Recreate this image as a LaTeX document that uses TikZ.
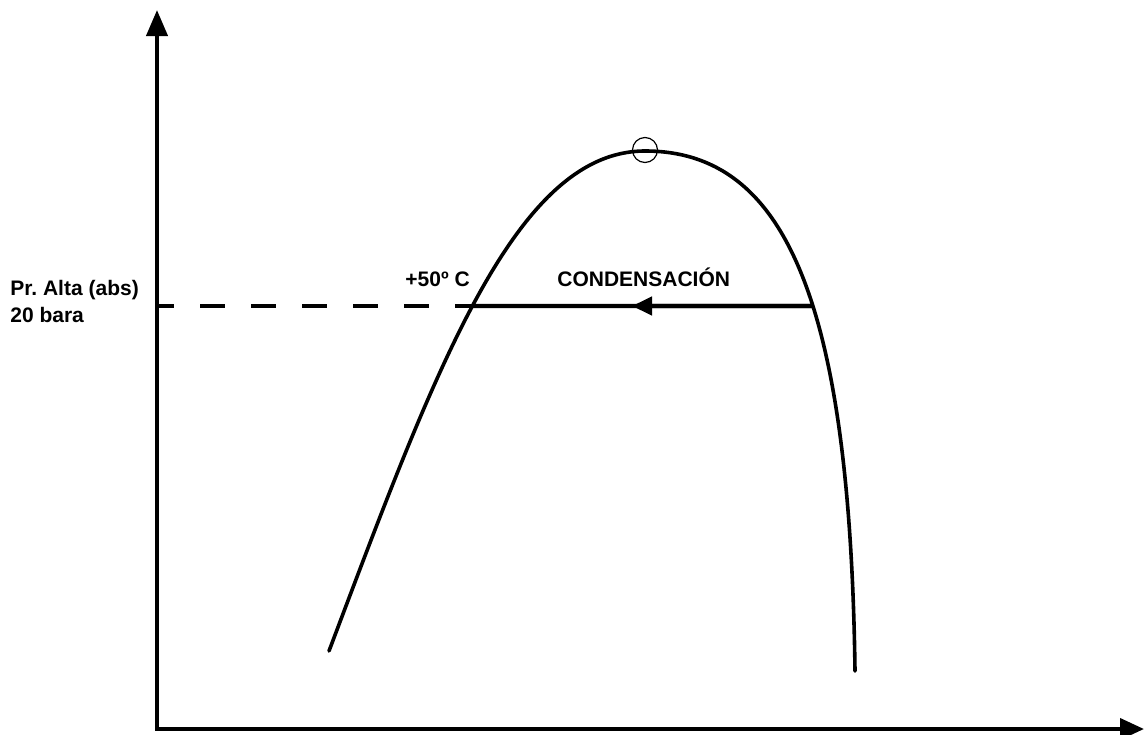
\documentclass[tikz,border=0pt]{standalone}
\usepackage{fontspec}
\setmainfont{Liberation Sans}
\usetikzlibrary{arrows.meta, intersections}

\begin{document}
\begin{tikzpicture}[x=0.5pt, y=-0.5pt,
      every node/.style={font=\fontsize{10.5}{13}\selectfont\bfseries, inner sep=0pt},
      axisline/.style={line width=2pt, {Triangle[length=13pt, width=10.5pt]}-{Triangle[length=12pt, width=10.5pt]}},
      curveline/.style={line width=1.8pt, line cap=round},
      presline/.style={line width=2.2pt}]
    \useasboundingbox[fill=white] (0,0) rectangle (1145,734);
    % ---- axes
    \coordinate (origin) at (157,729);
    \coordinate (ytip) at (157,10);
    \coordinate (xtip) at (1144,729);
    \draw[axisline] (ytip) -- (origin) -- (xtip);
    % ---- saturation curve
    \coordinate (liqend) at (329,651);
    \coordinate (peak) at (645,151);
    \coordinate (vapend) at (855,671);
    \draw[curveline, name path=curve] (liqend) .. controls (435,370) and (515,151) .. (peak)
      .. controls (785,151) and (850,300) .. (vapend);
    \node[circle, draw, line width=0.6pt, minimum size=12.5pt] (critico) at (645,150) {};
    % ---- condensation line
    \path[name path=nivel] (origin |- 0,306) -- (1000,306);
    \path[name intersections={of=curve and nivel, by={leftcross,rightcross}, sort by=nivel}];
    \coordinate (flecha) at (632,306);
    \draw[presline, dash pattern=on 12.5pt off 13pt, dash phase=4pt] (origin |- leftcross) -- (leftcross);
    \draw[presline] (leftcross) -- (rightcross);
    \draw[presline, -{Triangle[length=10pt, width=9pt]}] (rightcross) -- (flecha);
    % ---- labels
    \node[anchor=base west] (presion) at (10,295) {Pr.\ Alta (abs)};
    \node[anchor=base west] (bara) at (10,322) {20 bara};
    \node[anchor=base west] (temp) at (405,286) {+50º C};
    \node[anchor=base west] (cond) at (557,286) {CONDENSACIÓN};
  \end{tikzpicture}
\end{document}
